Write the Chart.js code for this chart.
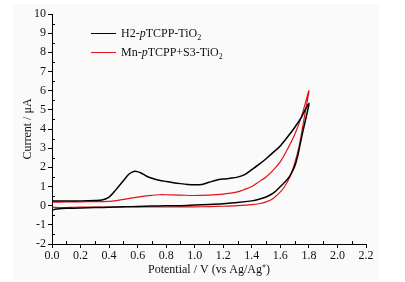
<!DOCTYPE html>
<html><head><meta charset="utf-8">
<script src="https://cdn.jsdelivr.net/npm/chart.js@4/dist/chart.umd.min.js"></script>
<style>
html,body{margin:0;padding:0;background:#fff;}
#wrap{position:relative;width:405px;height:282px;}
#bg{position:absolute;left:13px;top:4px;width:366px;height:276px;background:#fafafa;}
canvas{position:absolute;left:0;top:0;}
.lg{position:absolute;font-family:"Liberation Serif","Times New Roman",serif;font-size:12px;color:#111;white-space:nowrap;line-height:14px;}
.sw{position:absolute;height:0;}
</style></head>
<body><div id="wrap"><div id="bg"></div><canvas id="c" width="405" height="282"></canvas>
<div class="sw" style="left:91px;top:33px;width:25px;border-top:1.5px solid #000;"></div>
<div class="lg" style="left:121px;top:26px;">H2-<i>p</i>TCPP-TiO<sub style="font-size:8px;vertical-align:-3px;">2</sub></div>
<div class="sw" style="left:91px;top:52px;width:25px;border-top:1.2px solid #e3121a;"></div>
<div class="lg" style="left:121px;top:45px;">Mn-<i>p</i>TCPP+S3-TiO<sub style="font-size:8px;vertical-align:-3px;">2</sub></div>
</div>
<script>
const seriesNames = ["H2-pTCPP-TiO2", "Mn-pTCPP+S3-TiO2"];
const blackV = [0.00,0.10,0.20,0.30,0.35,0.40,0.45,0.50,0.54,0.58,0.62,0.66,0.70,0.75,0.80,0.85,0.90,0.95,1.00,1.05,1.10,1.15,1.20,1.25,1.30,1.35,1.40,1.45,1.50,1.55,1.60,1.65,1.70,1.75,1.80,
  1.78,1.76,1.74,1.72,1.70,1.67,1.645,1.60,1.55,1.50,1.45,1.40,1.30,1.20,1.10,1.00,0.90,0.80,0.70,0.60,0.50,0.40,0.30,0.20,0.10,0.05,0.02,0.00,0.00];
const blackI = [0.25,0.25,0.25,0.27,0.30,0.45,0.85,1.30,1.65,1.80,1.72,1.55,1.43,1.33,1.26,1.20,1.15,1.11,1.09,1.11,1.22,1.33,1.39,1.43,1.49,1.62,1.88,2.15,2.45,2.78,3.12,3.58,4.08,4.65,5.35,
  4.60,3.95,3.25,2.55,2.05,1.60,1.34,1.00,0.65,0.45,0.33,0.25,0.16,0.10,0.06,0.03,0.00,-0.01,-0.02,-0.04,-0.06,-0.08,-0.10,-0.12,-0.14,-0.16,-0.19,-0.22,0.25];
const redV = [0.00,0.10,0.20,0.30,0.40,0.45,0.50,0.55,0.60,0.65,0.70,0.75,0.80,0.85,0.90,1.00,1.10,1.20,1.25,1.30,1.35,1.40,1.45,1.50,1.55,1.60,1.65,1.70,1.75,1.80,
  1.78,1.77,1.75,1.73,1.70,1.67,1.63,1.60,1.55,1.50,1.45,1.40,1.30,1.20,1.10,1.00,0.80,0.60,0.40,0.20,0.00,0.00];
const redI = [0.18,0.19,0.20,0.21,0.22,0.26,0.33,0.39,0.45,0.50,0.54,0.57,0.57,0.56,0.55,0.53,0.55,0.60,0.65,0.72,0.85,1.00,1.25,1.50,1.85,2.30,2.95,3.70,4.70,6.00,
  5.10,4.70,3.85,3.05,2.20,1.55,1.00,0.72,0.38,0.20,0.10,0.05,0.00,-0.03,-0.05,-0.06,-0.07,-0.07,-0.07,-0.07,-0.08,0.18];
const xTicks = [0.0,0.2,0.4,0.6,0.8,1.0,1.2,1.4,1.6,1.8,2.0,2.2];
const yTicks = [-2,-1,0,1,2,3,4,5,6,7,8,9,10];

function pts(v,i){return v.map((x,k)=>({x:x,y:i[k]}));}
const font = {family:'"Liberation Serif","Times New Roman",serif', size:12};

const minorTicks = {
  id:'minorTicks',
  afterDraw(chart){
    const ctx=chart.ctx, xs=chart.scales.x, ys=chart.scales.y, a=chart.chartArea;
    ctx.save(); ctx.strokeStyle='#000'; ctx.lineWidth=1; ctx.beginPath();
    for(let k=0;k<xTicks.length-1;k++){
      const px=Math.round(xs.getPixelForValue((xTicks[k]+xTicks[k+1])/2))+0.5;
      ctx.moveTo(px,a.bottom); ctx.lineTo(px,a.bottom-3);
    }
    for(let k=0;k<yTicks.length-1;k++){
      const py=Math.round(ys.getPixelForValue((yTicks[k]+yTicks[k+1])/2))+0.5;
      ctx.moveTo(a.left,py); ctx.lineTo(a.left+3,py);
    }
    ctx.stroke(); ctx.restore();
  }
};

new Chart(document.getElementById('c'),{
  type:'scatter',
  data:{datasets:[
    {label:seriesNames[0],data:pts(blackV,blackI),showLine:true,borderColor:'#000',borderWidth:1.5,pointRadius:0,tension:0.3,fill:false},
    {label:seriesNames[1],data:pts(redV,redI),showLine:true,borderColor:'#e3121a',borderWidth:1.2,pointRadius:0,tension:0.3,fill:false}
  ]},
  options:{
    responsive:false,animation:false,
    layout:{padding:{left:0,right:39,top:14,bottom:0}},
    plugins:{legend:{display:false},tooltip:{enabled:false}},
    scales:{
      x:{type:'linear',min:0,max:2.2,
        afterBuildTicks(s){s.ticks=xTicks.map(v=>({value:v}));},
        afterFit(s){s.height=38;},
        ticks:{font:font,color:'#111',padding:1,maxRotation:0,callback:v=>v.toFixed(1)},
        grid:{display:true,drawOnChartArea:false,drawTicks:true,tickLength:4,color:'#000',lineWidth:1},
        border:{display:true,color:'#000',width:1},
        title:{display:true,text:'Potential / V (vs Ag/Ag\u207A)',font:font,color:'#111',padding:{top:0,bottom:5}}
      },
      y:{type:'linear',min:-2,max:10,
        afterBuildTicks(s){s.ticks=yTicks.map(v=>({value:v}));},
        afterFit(s){s.width=52;},
        ticks:{font:font,color:'#111',padding:2,callback:v=>String(v)},
        grid:{display:true,drawOnChartArea:false,drawTicks:true,tickLength:4,color:'#000',lineWidth:1},
        border:{display:true,color:'#000',width:1},
        title:{display:true,text:'Current / \u03BCA',font:font,color:'#111',padding:{top:21,bottom:0}}
      }
    }
  },
  plugins:[minorTicks]
});
</script></body></html>
